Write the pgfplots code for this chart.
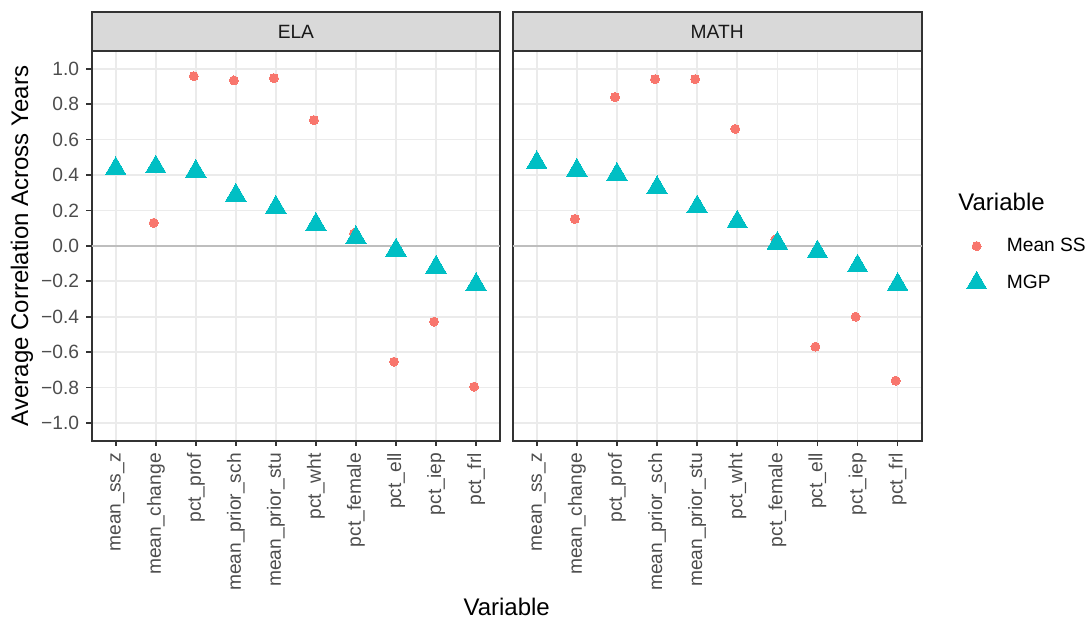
\documentclass[border=0pt]{standalone}
\usepackage{fontspec}
\setmainfont{Liberation Sans}
\usepackage{pgfplots}
\usepackage{pgfplotstable}
\pgfplotsset{compat=1.18}

\definecolor{ssred}{HTML}{F8766D}
\definecolor{mgpcyan}{HTML}{00BFC4}
\definecolor{gridgray}{HTML}{EBEBEB}
\definecolor{framegray}{HTML}{333333}
\definecolor{stripgray}{HTML}{D9D9D9}
\definecolor{ticktext}{HTML}{4D4D4D}
\definecolor{zerogray}{HTML}{BEBEBE}

% x = variable index, mgp = MGP, ss = Mean SS
\pgfplotstableread{
x  mgp     ss
1  0.436   nan
2  0.445   0.130
3  0.421   0.958
4  0.286   0.934
5  0.218   0.947
6  0.121   0.710
7  0.047   0.070
8  -0.024  -0.654
9  -0.120  -0.428
10 -0.218  -0.795
}\ela

\pgfplotstableread{
x  mgp     ss
1  0.470   nan
2  0.427   0.152
3  0.404   0.840
4  0.329   0.941
5  0.220   0.941
6  0.135   0.660
7  0.015   0.036
8  -0.034  -0.569
9  -0.114  -0.400
10 -0.218  -0.761
}\math

\newcommand{\ticksize}{\fontsize{9.6}{11.5}\selectfont}
\newcommand{\titlesize}{\fontsize{12}{14}\selectfont}

\pgfplotsset{
  panel/.style={
    scale only axis, height=194.85pt,
    xmin=0.4, xmax=10.6, ymin=-1.1, ymax=1.1,
    xtick={1,2,3,4,5,6,7,8,9,10},
    xticklabels={mean\_ss\_z,mean\_change,pct\_prof,mean\_prior\_sch,mean\_prior\_stu,pct\_wht,pct\_female,pct\_ell,pct\_iep,pct\_frl},
    ytick={-1,-0.8,-0.6,-0.4,-0.2,0,0.2,0.4,0.6,0.8,1},
    grid=major,
    major grid style={gridgray, line width=0.8pt},
    axis line style={framegray, line width=0.9pt},
    tick style={framegray, line width=0.8pt},
    tick align=outside, major tick length=2.75pt,
    tick pos=left,
    x tick label style={rotate=90, anchor=east, font=\ticksize, text=ticktext,
      text height=0.72em, text depth=0.22em},
    y tick label style={font=\ticksize, text=ticktext},
    clip=false,
  },
}

\begin{document}
\begin{tikzpicture}
\path[use as bounding box] (0,0) rectangle (545pt,311.5pt);

\begin{axis}[panel, name=ela, width=204.2pt,
  at={(45.85pt,91.15pt)}, anchor=south west,
  yticklabels={−1.0,−0.8,−0.6,−0.4,−0.2,0.0,0.2,0.4,0.6,0.8,1.0}]
\addplot[zerogray, line width=0.8pt, forget plot] coordinates {(0.4,0) (10.6,0)};
\addplot[only marks, mark=*, mark size=2.25pt, color=ssred,
  mark options={fill=ssred, draw=ssred, line width=0pt}]
  table[x expr=\thisrow{x}-0.05, y=ss] {\ela};
\addplot[only marks, mark=triangle*, mark size=5.9pt, color=mgpcyan,
  mark options={fill=mgpcyan, draw=mgpcyan, line width=0pt}]
  table[x=x, y=mgp] {\ela};
\draw[framegray, fill=stripgray, line width=0.9pt]
  (rel axis cs:0,1) rectangle ([yshift=19.5pt]rel axis cs:1,1);
\node[font=\ticksize, text=black!90] at ([yshift=9.75pt]rel axis cs:0.5,1) {ELA};
\end{axis}

\begin{axis}[panel, name=math, width=204.5pt,
  at={(256.35pt,91.15pt)}, anchor=south west,
  yticklabels={}, ytick style={draw=none},
  legend style={draw=none, fill=none, inner sep=0pt,
    at={(1.1083,0.5479)}, anchor=north west,
    font=\ticksize, column sep=10pt,
    nodes={inner sep=0pt, minimum height=18.5pt},
    cells={anchor=west}},
  legend image code/.code={\draw[mark repeat=2, mark phase=2, #1]
    plot coordinates {(0pt,0pt) (7pt,0pt) (14pt,0pt)};}]
\addplot[zerogray, line width=0.8pt, forget plot] coordinates {(0.4,0) (10.6,0)};
\addplot[only marks, mark=*, mark size=2.25pt, color=ssred,
  mark options={fill=ssred, draw=ssred, line width=0pt}]
  table[x expr=\thisrow{x}-0.05, y=ss] {\math};
\addlegendentry{Mean SS}
\addplot[only marks, mark=triangle*, mark size=5.9pt, color=mgpcyan,
  mark options={fill=mgpcyan, draw=mgpcyan, line width=0pt}]
  table[x=x, y=mgp] {\math};
\addlegendentry{MGP}
\draw[framegray, fill=stripgray, line width=0.9pt]
  (rel axis cs:0,1) rectangle ([yshift=19.5pt]rel axis cs:1,1);
\node[font=\ticksize, text=black!90] at ([yshift=9.75pt]rel axis cs:0.5,1) {MATH};
\end{axis}

\node[rotate=90, font=\titlesize] at (11pt,188.5pt) {Average Correlation Across Years};
\node[font=\titlesize] at (253.35pt,8pt) {Variable};
\node[font=\titlesize, anchor=west, inner sep=0pt] at (479pt,210.65pt) {Variable};
\end{tikzpicture}
\end{document}
